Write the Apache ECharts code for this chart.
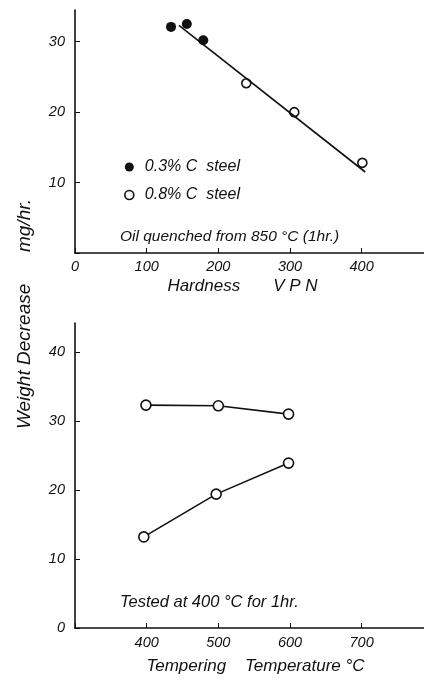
<!DOCTYPE html>
<html>
<head>
<meta charset="utf-8">
<script src="https://cdn.jsdelivr.net/npm/echarts@6/dist/echarts.min.js"></script>
<style>
html,body{margin:0;padding:0;background:#fff;}
#c{width:424px;height:682px;}
</style>
</head>
<body>
<div id="c"></div>
<script>
// Top panel: Hardness VPN vs weight decrease
const steel03 = [[134, 32.1], [156, 32.5], [179, 30.2]];
const steel08 = [[239, 24.1], [306, 20.0], [401, 12.8]];
const fitLine = [[145, 32.3], [405, 11.5]];
// Bottom panel: tempering temperature vs weight decrease
const temperUpper = [[399, 32.3], [500, 32.2], [598, 31.0]];
const temperLower = [[396, 13.2], [497, 19.4], [598, 23.9]];
const topXTicks = [0, 100, 200, 300, 400];
const topYTicks = [10, 20, 30];
const botXTicks = [400, 500, 600, 700];
const botYTicks = [0, 10, 20, 30, 40];

const FONT = 'Liberation Sans';
const INK = '#111';
const lbl = (ticks) => ({
  color: INK, fontStyle: 'italic', fontFamily: FONT, fontSize: 14.5,
  formatter: v => ticks.includes(v) ? String(v) : ''
});
const axisLine = {show: true, onZero: false, lineStyle: {color: INK, width: 1.6}};
const tick = {show: true, inside: true, length: 5, lineStyle: {color: INK, width: 1}};
const openStyle = {color: '#fff', borderColor: INK, borderWidth: 1.6, opacity: 1};

const chart = echarts.init(document.getElementById('c'), null, {renderer: 'canvas'});
chart.setOption({
  backgroundColor: '#fff',
  animation: false,
  grid: [
    {left: 75, top: 10, width: 349, height: 243},
    {left: 75, top: 323, width: 349, height: 305}
  ],
  xAxis: [
    {gridIndex: 0, type: 'value', min: 0, max: 487, interval: 100,
     axisLine, axisTick: tick, splitLine: {show: false},
     axisLabel: {...lbl(topXTicks), margin: 6, showMaxLabel: false},
     name: 'Hardness       V P N', nameLocation: 'middle', nameGap: 25,
     nameTextStyle: {color: INK, fontStyle: 'italic', fontFamily: FONT, fontSize: 17, padding: [0, 14, 0, 0]}},
    {gridIndex: 1, type: 'value', min: 300, max: 787, interval: 100,
     axisLine, axisTick: tick, splitLine: {show: false},
     axisLabel: {...lbl(botXTicks), margin: 7, showMaxLabel: false},
     name: 'Tempering    Temperature °C', nameLocation: 'middle', nameGap: 30,
     nameTextStyle: {color: INK, fontStyle: 'italic', fontFamily: FONT, fontSize: 17, padding: [0, 0, 0, 12]}}
  ],
  yAxis: [
    {gridIndex: 0, type: 'value', min: 0, max: 34.5, interval: 10,
     axisLine, axisTick: tick, splitLine: {show: false},
     axisLabel: {...lbl(topYTicks), margin: 10, showMaxLabel: false}},
    {gridIndex: 1, type: 'value', min: 0, max: 44.2, interval: 10,
     axisLine, axisTick: tick, splitLine: {show: false},
     axisLabel: {...lbl(botYTicks), margin: 10, showMaxLabel: false}}
  ],
  legend: {
    data: [
      {name: '0.3% C  steel', icon: 'circle', itemStyle: {color: INK, opacity: 1}},
      {name: '0.8% C  steel', icon: 'circle', itemStyle: openStyle}
    ],
    orient: 'vertical', left: 119, top: 154, itemWidth: 9, itemHeight: 9, itemGap: 12,
    textStyle: {color: INK, fontStyle: 'italic', fontFamily: FONT, fontSize: 16, padding: [0, 0, 0, 6]},
    selectedMode: false
  },
  graphic: [
    {type: 'text', left: 120, top: 229,
     style: {text: 'Oil quenched from 850 °C (1hr.)', fill: INK, font: 'italic 15.5px "Liberation Sans"'}},
    {type: 'text', left: 120, top: 594,
     style: {text: 'Tested at 400 °C for 1hr.', fill: INK, font: 'italic 16.5px "Liberation Sans"'}},
    {type: 'text', x: 25, y: 314, rotation: Math.PI / 2,
     style: {text: 'Weight Decrease      mg/hr.', fill: INK, font: 'italic 19px "Liberation Sans"',
             align: 'center', verticalAlign: 'middle'}}
  ],
  series: [
    {type: 'line', xAxisIndex: 0, yAxisIndex: 0, data: fitLine, showSymbol: false, symbol: 'none',
     lineStyle: {color: INK, width: 1.6}, silent: true},
    {name: '0.3% C  steel', type: 'scatter', xAxisIndex: 0, yAxisIndex: 0, data: steel03,
     symbol: 'circle', symbolSize: 10, itemStyle: {color: INK, opacity: 1}},
    {name: '0.8% C  steel', type: 'scatter', xAxisIndex: 0, yAxisIndex: 0, data: steel08,
     symbol: 'circle', symbolSize: 9, itemStyle: openStyle},
    {type: 'line', xAxisIndex: 1, yAxisIndex: 1, data: temperUpper, symbol: 'circle', symbolSize: 10,
     lineStyle: {color: INK, width: 1.6}, itemStyle: openStyle},
    {type: 'line', xAxisIndex: 1, yAxisIndex: 1, data: temperLower, symbol: 'circle', symbolSize: 10,
     lineStyle: {color: INK, width: 1.6}, itemStyle: openStyle}
  ]
});
</script>
</body>
</html>
